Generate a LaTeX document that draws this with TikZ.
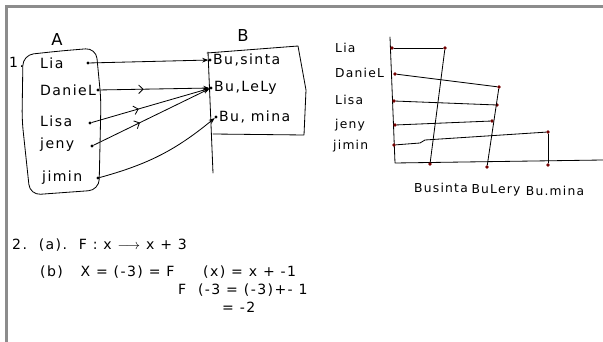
\documentclass[tikz,border=0pt]{standalone}
\usepackage{amsmath}
\usepackage{fontspec}
\newfontfamily\handfont{DejaVu Sans}[LetterSpace=10]
\usepackage{tikz}
\usetikzlibrary{positioning,arrows.meta,decorations.markings}

\begin{document}
\begin{tikzpicture}[
  x=0.03cm, y=-0.03cm,
  pen/.style={line width=0.7pt, line cap=round, line join=round},
  lbl/.style={font=\handfont\fontsize{12}{12}\selectfont, inner sep=0pt, anchor=west},
  glbl/.style={font=\handfont\fontsize{10.5}{11}\selectfont, inner sep=0pt, anchor=west},
  eqn/.style={font=\handfont\fontsize{12}{12}\selectfont, inner sep=0pt, anchor=west},
  dot/.style={circle, fill=black, inner sep=0pt, minimum size=2.6pt},
  rdot/.style={circle, fill=red!45!black, inner sep=0pt, minimum size=3pt},
  arrow/.style={pen, -{Stealth[length=1.8mm, width=1.4mm]}},
  midarrow/.style={pen, -{Stealth[length=1.8mm, width=1.4mm]},
    postaction={decorate, decoration={markings,
      mark=at position 0.4 with {\arrow{Straight Barb[length=1.3mm]}}}}}
]
  \useasboundingbox (0,0) rectangle (603,342);
  \draw[gray!90, line width=1.8pt] (6.5,342) -- (6.5,6.5) -- (603,6.5);

  % set A
  \node[font=\handfont\fontsize{14}{14}\selectfont, inner sep=0pt] (setA) at (57,40) {A};
  \node[eqn] (one) at (9,62) {1.};
  \draw[pen, rounded corners=9] (23,55) -- (60,51) -- (96,48) -- (101,100) -- (99,190)
    -- (30,195) -- (22,120) -- cycle;
  \node[lbl] (lia) at (40,63) {Lia};
  \node[lbl] (daniel) at (40,90) {DanieL};
  \node[lbl] (lisa) at (40,121) {Lisa};
  \node[lbl] (jeny) at (40,145) {jeny};
  \node[lbl] (jimin) at (42,178) {jimin};
  \node[dot] (pLia) at (88,63) {};
  \node[dot] (pDaniel) at (98,90) {};
  \node[dot] (pLisa) at (90,123) {};
  \node[dot] (pJeny) at (92,146) {};
  \node[dot] (pJimin) at (98,178) {};

  % set B
  \node[font=\handfont\fontsize{14}{14}\selectfont, inner sep=0pt] (setB) at (243,36) {B};
  \draw[pen] (207,53) -- (298,46) -- (306,90) -- (304,135) -- (213,134);
  \draw[pen] (208,52) -- (213,173);
  \node[dot] (qBusinta) at (210,60) {};
  \node[dot] (qBulely) at (211,88) {};
  \node[dot] (qBumina) at (216,117) {};
  \node[lbl, right=1pt of qBusinta] (businta) {Bu,sinta};
  \node[lbl, right=1pt of qBulely] (bulely) {Bu,LeLy};
  \node[lbl, right=1pt of qBumina] (bumina) {Bu, mina};

  \draw[arrow] (pLia) -- (qBusinta);
  \draw[midarrow] (pDaniel) -- (qBulely);
  \draw[midarrow] (pLisa) -- (qBulely);
  \draw[midarrow] (pJeny) -- (qBulely);
  \draw[arrow] (pJimin) to[bend right=12] (qBumina);

  % graph
  \coordinate (yTop) at (390,37);
  \coordinate (orig) at (395,163);
  \coordinate (xEnd) at (603,160);
  \draw[pen] (yTop) -- (orig) -- (xEnd);
  \node[rdot] (yLia) at (392,48) {};
  \node[rdot] (yDaniel) at (395,74) {};
  \node[rdot] (yLisa) at (394,101) {};
  \node[rdot] (yJeny) at (395,125) {};
  \node[rdot] (yJimin) at (394,145) {};
  \node[rdot] (xBusinta) at (430,164) {};
  \node[rdot] (xBulely) at (487,167) {};
  \node[rdot] (xBumina) at (548,165) {};
  \node[rdot] (mLia) at (445,48) {};
  \node[rdot] (mDaniel) at (499,87) {};
  \node[rdot] (mLisa) at (497,105) {};
  \node[rdot] (mJeny) at (492,121) {};
  \node[rdot] (mJimin) at (548,132) {};
  \draw[pen] (xBusinta) -- (mLia);
  \draw[pen] (xBulely) -- (mDaniel);
  \draw[pen] (xBumina) -- (mJimin);
  \draw[pen] (yLia) -- (mLia);
  \draw[pen] (yDaniel) -- (mDaniel);
  \draw[pen] (yLisa) -- (mLisa);
  \draw[pen] (yJeny) -- (mJeny);
  \draw[pen] (yJimin) -- (420,143) -- (425,140) -- (mJimin);

  \node[glbl] (gLia) at (335,48) {Lia};
  \node[glbl] (gDaniel) at (335,73) {DanieL};
  \node[glbl] (gLisa) at (335,100) {Lisa};
  \node[glbl] (gJeny) at (335,125) {jeny};
  \node[glbl] (gJimin) at (333,146) {jimin};
  \node[glbl, anchor=center] (gBusinta) at (441,188) {Businta};
  \node[glbl, anchor=center] (gBulely) at (496,190) {BuLery};
  \node[glbl, anchor=center] (gBumina) at (555,191) {Bu.mina};

  % question 2
  \node[eqn] (qa) at (12,245) {2.\ \ (a).\ \ F : x $\longrightarrow$ x + 3};
  \node[eqn] (qb) at (40,272) {(b)\ \ \ X = (-3) = F};
  \node[eqn] (qb2) at (203,272) {(x) = x + -1};
  \node[eqn] (qc) at (178,290) {F\ \ (-3 = (-3)+- 1};
  \node[eqn] (qd) at (222,307) {= -2};
\end{tikzpicture}
\end{document}
